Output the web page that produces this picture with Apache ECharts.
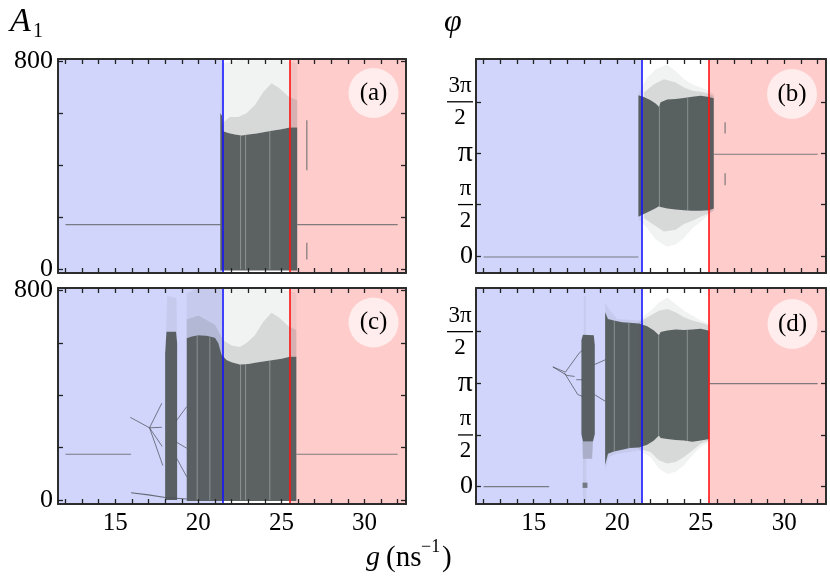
<!DOCTYPE html>
<html>
<head>
<meta charset="utf-8">
<title>Bifurcation diagrams A1 and phi versus g</title>
<script src="https://cdn.jsdelivr.net/npm/echarts@6.0.0/dist/echarts.min.js"></script>
<style>
html,body{margin:0;padding:0;background:#fff;}
#chart{width:830px;height:580px;}
</style>
</head>
<body>
<div id="chart"></div>
<script>
// ---------------- axes, ticks, tick labels ----------------
const gMin = 11.55, gMax = 32.5;
const gTicks = [12,13,14,15,16,17,18,19,20,21,22,23,24,25,26,27,28,29,30,31,32];
const gTickLabels = [15, 20, 25, 30];
const aTicks = [0, 200, 400, 600, 800];
const aTickLabels = [0, 800];
const phiTicks = [0, Math.PI / 2, Math.PI, 3 * Math.PI / 2];
const phiTickLabels = ['0', 'π/2', 'π', '3π/2'];
const aRangeTop = [-14, 808];
const aRangeBottom = [-15, 810];
const phiRangeTop = [-0.52, 6.02];
const phiRangeBottom = [-0.53, 6.04];
const blueLineG = 21.45;
const redLineG = 25.5;
const panelLetters = ['(a)', '(b)', '(c)', '(d)'];

// ---------------- panel (a): A1, upper ----------------
const aFixLeft = [[12, 172], [21.35, 172]];
const aFixRight = [[25.95, 172], [32, 172]];
const aDash1 = [[26.53, 381], [26.53, 573]];
const aDash2 = [[26.53, 38], [26.53, 102]];
const aDenseTop = [[21.32, 600], [21.42, 590], [21.5, 530], [21.8, 524], [22.2, 518], [22.6, 514], [23.0, 518], [23.5, 522], [24.0, 528], [24.5, 533], [25.0, 538], [25.5, 545], [25.95, 545]];
const aDenseBottom = [[21.32, -4], [25.95, -4]];
const aMidTop = [[21.4, 560], [21.9, 585], [22.4, 585], [22.9, 600], [23.4, 630], [23.9, 680], [24.4, 715], [24.9, 695], [25.4, 665], [25.95, 650]];
const aSparseTop = [[21.4, 790], [22.5, 806], [25.0, 806], [25.95, 790]];
const aStripes = [[22.54, 0, 514], [22.84, 0, 516], [24.3, 0, 530]];

// ---------------- panel (b): phi, upper ----------------
const bFixLeft = [[12, -0.03], [21.27, -0.03]];
const bFixRight = [[25.8, 3.11], [32, 3.11]];
const bDash1 = [[26.46, 3.74], [26.46, 4.09]];
const bDash2 = [[26.46, 2.16], [26.46, 2.53]];
const bDenseTop = [[21.27, 4.91], [21.6, 4.86], [22.0, 4.76], [22.3, 4.66], [22.5, 4.56], [22.6, 4.7], [23.0, 4.78], [23.5, 4.8], [24.0, 4.83], [24.5, 4.87], [25.0, 4.9], [25.5, 4.86], [25.78, 4.82]];
const bDenseBottom = [[21.27, 1.2], [21.6, 1.28], [22.0, 1.38], [22.3, 1.46], [22.5, 1.52], [22.6, 1.5], [23.0, 1.45], [23.5, 1.42], [24.0, 1.4], [24.5, 1.38], [25.0, 1.38], [25.5, 1.4], [25.78, 1.45]];
const bMidTop = [[21.6, 5.0], [22.2, 5.25], [22.8, 5.4], [23.5, 5.3], [24.0, 5.15], [24.5, 5.05], [25.0, 5.02], [25.5, 4.96], [25.78, 4.9]];
const bMidBottom = [[21.6, 1.15], [22.2, 0.95], [22.8, 0.75], [23.5, 0.8], [24.0, 0.98], [24.5, 1.08], [25.0, 1.2], [25.5, 1.3], [25.78, 1.4]];
const bSparseTop = [[21.3, 5.0], [21.8, 5.45], [22.3, 5.7], [22.97, 5.85], [23.5, 5.65], [24.0, 5.4], [24.5, 5.25], [25.0, 5.15], [25.5, 5.05], [25.8, 4.95]];
const bSparseBottom = [[21.3, 1.1], [21.8, 0.85], [22.3, 0.5], [22.97, 0.28], [23.5, 0.35], [24.0, 0.55], [24.5, 0.85], [25.0, 1.05], [25.5, 1.25], [25.8, 1.4]];
const bStripes = [[22.53, 1.52, 4.62], [24.22, 1.4, 4.83]];

// ---------------- panel (c): A1, lower ----------------
const cFixLeft = [[12, 175], [15.95, 175]];
const cFixRight = [[25.9, 175], [32, 175]];
const cBranch1 = [[15.9, 316], [17.06, 276]];
const cBranch2 = [[17.06, 276], [17.8, 370]];
const cBranch3 = [[17.06, 276], [17.8, 278]];
const cBranch4 = [[17.06, 276], [17.82, 205]];
const cBranch5 = [[17.06, 276], [17.86, 132]];
const cBranch6 = [[18.63, 299], [19.3, 357]];
const cBranch7 = [[18.63, 223], [19.3, 198]];
const cBranch8 = [[18.7, 159], [19.3, 89]];
const cLowBranch = [[15.95, 28], [17.0, 20], [18.0, 10], [19.3, 4]];
const cColTop = [[18.0, 560], [18.08, 643], [18.66, 643], [18.72, 600]];
const cColBottom = [[18.0, 0], [18.72, 0]];
const cColSparseTop = [[18.05, 643], [18.12, 780], [18.68, 772], [18.72, 643]];
const cColSparseBottom = [[18.05, 643], [18.72, 643]];
const cDenseTop = [[19.3, 618], [19.6, 625], [20.0, 630], [20.5, 628], [21.0, 620], [21.2, 600], [21.4, 555], [21.7, 535], [22.0, 526], [22.5, 518], [23.0, 520], [23.5, 525], [24.0, 530], [24.5, 535], [25.0, 540], [25.5, 547], [25.9, 547]];
const cDenseBottom = [[19.3, -4], [25.9, -4]];
const cMidTop = [[19.3, 690], [20.0, 705], [21.0, 670], [21.5, 610], [22.0, 590], [22.5, 585], [22.9, 600], [23.4, 630], [23.9, 680], [24.4, 715], [24.9, 695], [25.4, 665], [25.9, 650]];
const cSparseTop = [[19.3, 790], [19.8, 806], [25.0, 806], [25.9, 790]];
const cStripes = [[19.93, 0, 628], [20.69, 0, 622], [22.54, 0, 518], [22.84, 0, 519], [24.3, 0, 532]];

// ---------------- panel (d): phi, lower ----------------
const dFixLeft = [[12, 0.0], [15.93, 0.0]];
const dFixRight = [[25.52, 3.13], [32, 3.13]];
const dBranch1 = [[16.15, 3.64], [16.9, 3.48], [17.74, 4.07], [17.94, 4.15]];
const dBranch2 = [[16.15, 3.64], [17.0, 3.38], [17.45, 3.35]];
const dBranch3 = [[16.85, 3.45], [17.64, 2.8], [17.94, 2.74]];
const dBranch4 = [[17.55, 3.25], [17.94, 3.25]];
const dBranch5 = [[18.64, 3.71], [19.3, 3.86]];
const dBranch6 = [[18.64, 2.8], [19.3, 2.59]];
const dColTop = [[17.86, 4.45], [17.95, 4.62], [18.6, 4.6], [18.66, 4.3]];
const dColBottom = [[17.86, 1.6], [17.95, 1.37], [18.55, 1.37], [18.66, 1.6]];
const dColStreakTop = [[18.0, 5.8], [18.12, 5.8]];
const dColStreakBottom = [[18.0, 4.6], [18.12, 4.6]];
const dColFaintTop = [[17.92, 1.37], [18.55, 1.37]];
const dColFaintBottom = [[17.95, 0.85], [18.5, 0.85]];
const dZeroStreakTop = [[17.95, 0.85], [18.15, 0.85]];
const dZeroStreakBottom = [[17.95, -0.4], [18.15, -0.4]];
const dZeroTop = [[17.93, 0.12], [18.22, 0.12]];
const dZeroBottom = [[17.93, -0.04], [18.22, -0.04]];
const dDenseTop = [[19.28, 5.3], [19.45, 5.1], [19.8, 5.05], [20.3, 5.0], [20.75, 4.98], [21.3, 4.96], [21.8, 4.88], [22.2, 4.75], [22.5, 4.6], [22.6, 4.7], [23.0, 4.75], [23.5, 4.78], [24.0, 4.76], [24.5, 4.78], [25.0, 4.8], [25.52, 4.74]];
const dDenseBottom = [[19.28, 0.66], [19.45, 1.0], [19.8, 1.07], [20.3, 1.12], [20.75, 1.17], [21.3, 1.19], [21.8, 1.27], [22.2, 1.4], [22.5, 1.55], [22.6, 1.48], [23.0, 1.45], [23.5, 1.42], [24.0, 1.4], [24.5, 1.36], [25.0, 1.4], [25.52, 1.45]];
const dMidTop = [[21.3, 5.0], [22.0, 5.2], [22.5, 5.35], [23.0, 5.4], [23.5, 5.3], [24.0, 5.15], [24.5, 5.05], [25.0, 4.98], [25.52, 4.9]];
const dMidBottom = [[21.3, 1.15], [22.0, 1.05], [22.5, 0.8], [23.0, 0.7], [23.5, 0.75], [24.0, 0.9], [24.5, 1.1], [25.0, 1.3], [25.52, 1.4]];
const dSparseTop = [[19.28, 5.6], [19.5, 5.4], [20.0, 5.1], [21.3, 5.05], [22.0, 5.35], [22.5, 5.6], [23.0, 5.75], [23.5, 5.55], [24.0, 5.35], [24.5, 5.2], [25.0, 5.05], [25.52, 4.95]];
const dSparseBottom = [[19.28, 0.5], [19.5, 0.9], [20.0, 1.0], [21.3, 1.1], [22.0, 0.9], [22.5, 0.55], [23.0, 0.38], [23.5, 0.45], [24.0, 0.65], [24.5, 0.95], [25.0, 1.2], [25.52, 1.35]];
const dStripes = [[19.83, 1.07, 5.05], [20.7, 1.17, 4.98], [22.48, 1.55, 4.6], [24.2, 1.38, 4.77]];

// ---------------- styling ----------------
const SERIF = "'Liberation Serif','DejaVu Serif',serif";
const DENSE = 'rgba(80,86,86,0.93)';
const MID = 'rgba(80,86,86,0.16)';
const SPARSE = 'rgba(80,86,86,0.08)';
const FAINT = 'rgba(80,86,86,0.3)';
const FIX = 'rgba(95,100,102,0.8)';
const BRANCH = 'rgba(75,80,88,0.8)';
const STRIPE = 'rgba(190,196,196,0.45)';
const BLUE_SHADE = 'rgba(25,45,235,0.2)';
const RED_SHADE = 'rgba(255,0,0,0.2)';

const grids = [
  {left: 58, top: 59, width: 348, height: 214},
  {left: 476, top: 59, width: 350, height: 214},
  {left: 58, top: 288, width: 348, height: 216},
  {left: 476, top: 288, width: 350, height: 216}
];

const frameLine = {show: true, onZero: false, lineStyle: {color: '#2d2d2d', width: 2}};
const tickStyle = {color: '#222', width: 1.3};

function xAxesFor(gi, showLabels) {
  const base = {type: 'value', gridIndex: gi, min: gMin, max: gMax, z: 20,
    splitLine: {show: false}, axisLine: frameLine,
    axisTick: {show: true, inside: true, length: 5, customValues: gTicks, lineStyle: tickStyle}};
  return [
    Object.assign({}, base, {position: 'bottom',
      axisLabel: {show: showLabels, customValues: gTickLabels, margin: 7, color: '#000', fontFamily: SERIF, fontSize: 25}}),
    Object.assign({}, base, {position: 'top', axisLabel: {show: false}})
  ];
}

function phiRich(label) {
  if (label.indexOf('/') >= 0) {
    const parts = label.split('/');
    const bar = parts[0].length > 1 ? 'barW' : 'barN';
    return '{num|' + parts[0] + '}\n{' + bar + '| }\n{num|' + parts[1] + '}';
  }
  if (label === 'π') return '{pi|π}';
  return '{zero|' + label + '}';
}

const phiRichStyles = {
  num: {fontFamily: SERIF, fontSize: 23, lineHeight: 26, align: 'center', color: '#000'},
  barW: {width: 26, height: 1.3, lineHeight: 6, backgroundColor: '#000', fontSize: 1, align: 'center'},
  barN: {width: 15, height: 1.3, lineHeight: 6, backgroundColor: '#000', fontSize: 1, align: 'center'},
  pi: {fontFamily: SERIF, fontSize: 30, color: '#000'},
  zero: {fontFamily: SERIF, fontSize: 26, color: '#000'}
};

function yAxesFor(gi, isPhi, range) {
  const base = {type: 'value', gridIndex: gi, min: range[0], max: range[1], z: 20,
    splitLine: {show: false}, axisLine: frameLine,
    axisTick: {show: true, inside: true, length: 5, customValues: isPhi ? phiTicks : aTicks, lineStyle: tickStyle}};
  const label = isPhi ? {
      show: true, customValues: phiTicks, margin: 3,
      formatter: function (v) {
        let idx = 0;
        phiTicks.forEach(function (t, i) { if (Math.abs(t - v) < 1e-6) idx = i; });
        return phiRich(phiTickLabels[idx]);
      },
      rich: phiRichStyles
    } : {show: true, customValues: aTickLabels, margin: 5, color: '#000', fontFamily: SERIF, fontSize: 26};
  return [
    Object.assign({}, base, {position: 'left', axisLabel: label}),
    Object.assign({}, base, {position: 'right', axisLabel: {show: false}})
  ];
}

function poly(gi, top, bottom, color, z) {
  return {
    type: 'custom', xAxisIndex: gi * 2, yAxisIndex: gi * 2, silent: true, z: z || 2,
    data: [top[0]],
    renderItem: function (params, api) {
      const pts = top.map(function (p) { return api.coord(p); })
        .concat(bottom.slice().reverse().map(function (p) { return api.coord(p); }));
      return {type: 'polygon', shape: {points: pts}, style: {fill: color}};
    }
  };
}

function line(gi, pts, color, width, z) {
  return {type: 'line', xAxisIndex: gi * 2, yAxisIndex: gi * 2, data: pts, symbol: 'none',
    silent: true, z: z || 3, lineStyle: {color: color, width: width}};
}

function stripes(gi, list) {
  return list.map(function (s) { return line(gi, [[s[0], s[1]], [s[0], s[2]]], STRIPE, 1.1, 4); });
}

function regions(gi) {
  return {
    type: 'line', xAxisIndex: gi * 2, yAxisIndex: gi * 2, data: [], z: 10, silent: true,
    markArea: {silent: true, data: [
      [{xAxis: gMin, itemStyle: {color: BLUE_SHADE}}, {xAxis: blueLineG}],
      [{xAxis: redLineG, itemStyle: {color: RED_SHADE}}, {xAxis: gMax}]
    ]},
    markLine: {silent: true, symbol: 'none', label: {show: false},
      data: [
        {xAxis: blueLineG, lineStyle: {color: '#1414ff', width: 1.6, type: 'solid'}},
        {xAxis: redLineG, lineStyle: {color: '#ff1414', width: 1.6, type: 'solid'}}
      ]}
  };
}

const series = [].concat(
  // (a)
  [poly(0, aSparseTop, aDenseTop, SPARSE), poly(0, aMidTop, aDenseTop, MID), poly(0, aDenseTop, aDenseBottom, DENSE)],
  stripes(0, aStripes),
  [line(0, aFixLeft, FIX, 1.1), line(0, aFixRight, FIX, 1.1), line(0, aDash1, FIX, 1.2), line(0, aDash2, FIX, 1.2), regions(0)],
  // (b)
  [poly(1, bSparseTop, bSparseBottom, SPARSE), poly(1, bMidTop, bMidBottom, MID), poly(1, bDenseTop, bDenseBottom, DENSE)],
  stripes(1, bStripes),
  [line(1, bFixLeft, FIX, 1.1), line(1, bFixRight, FIX, 1.1), line(1, bDash1, FIX, 1.2), line(1, bDash2, FIX, 1.2), regions(1)],
  // (c)
  [poly(2, cSparseTop, cDenseTop, SPARSE), poly(2, cMidTop, cDenseTop, MID), poly(2, cColSparseTop, cColSparseBottom, SPARSE),
   poly(2, cDenseTop, cDenseBottom, DENSE), poly(2, cColTop, cColBottom, DENSE)],
  stripes(2, cStripes),
  [line(2, cFixLeft, FIX, 1.1), line(2, cFixRight, FIX, 1.1),
   line(2, cBranch1, BRANCH, 0.9), line(2, cBranch2, BRANCH, 0.9), line(2, cBranch3, BRANCH, 0.9), line(2, cBranch4, BRANCH, 0.9),
   line(2, cBranch5, BRANCH, 0.9), line(2, cBranch6, BRANCH, 0.9), line(2, cBranch7, BRANCH, 0.9), line(2, cBranch8, BRANCH, 0.9),
   line(2, cLowBranch, BRANCH, 1.1), regions(2)],
  // (d)
  [poly(3, dSparseTop, dSparseBottom, SPARSE), poly(3, dMidTop, dMidBottom, MID),
   poly(3, dColStreakTop, dColStreakBottom, SPARSE), poly(3, dColFaintTop, dColFaintBottom, FAINT),
   poly(3, dZeroStreakTop, dZeroStreakBottom, SPARSE),
   poly(3, dDenseTop, dDenseBottom, DENSE), poly(3, dColTop, dColBottom, DENSE), poly(3, dZeroTop, dZeroBottom, 'rgba(80,86,86,0.7)')],
  stripes(3, dStripes),
  [line(3, dFixLeft, FIX, 1.1), line(3, dFixRight, FIX, 1.1),
   line(3, dBranch1, BRANCH, 0.9), line(3, dBranch2, BRANCH, 0.9), line(3, dBranch3, BRANCH, 0.9), line(3, dBranch4, BRANCH, 0.9),
   line(3, dBranch5, BRANCH, 0.9), line(3, dBranch6, BRANCH, 0.9), regions(3)]
);

const badgeCenters = [[373.5, 93], [792, 94], [373.5, 322.5], [792.5, 324]];
const graphics = [];
badgeCenters.forEach(function (c, i) {
  graphics.push({type: 'circle', z: 30, silent: true, shape: {cx: c[0], cy: c[1], r: 25}, style: {fill: 'rgba(255,255,255,0.62)'}});
  graphics.push({type: 'text', z: 31, silent: true, x: c[0], y: c[1],
    style: {text: panelLetters[i], fill: '#000', fontFamily: SERIF, fontSize: 25, align: 'center', verticalAlign: 'middle'}});
});
graphics.push(
  {type: 'text', silent: true, x: 10, y: 22, style: {text: 'A', fill: '#000', fontFamily: SERIF, fontStyle: 'italic', fontSize: 34, align: 'left', verticalAlign: 'middle'}},
  {type: 'text', silent: true, x: 33, y: 32, style: {text: '1', fill: '#000', fontFamily: SERIF, fontSize: 20, align: 'left', verticalAlign: 'middle'}},
  {type: 'text', silent: true, x: 444, y: 23, style: {text: 'φ', fill: '#000', fontFamily: SERIF, fontStyle: 'italic', fontSize: 32, align: 'left', verticalAlign: 'middle'}},
  {type: 'text', silent: true, x: 366, y: 558, style: {text: 'g', fill: '#000', fontFamily: SERIF, fontStyle: 'italic', fontSize: 28, align: 'left', verticalAlign: 'middle'}},
  {type: 'text', silent: true, x: 386, y: 558, style: {text: '(ns', fill: '#000', fontFamily: SERIF, fontSize: 29, align: 'left', verticalAlign: 'middle'}},
  {type: 'text', silent: true, x: 421, y: 547, style: {text: '−1', fill: '#000', fontFamily: SERIF, fontSize: 18, align: 'left', verticalAlign: 'middle'}},
  {type: 'text', silent: true, x: 442, y: 558, style: {text: ')', fill: '#000', fontFamily: SERIF, fontSize: 29, align: 'left', verticalAlign: 'middle'}}
);

const chart = echarts.init(document.getElementById('chart'), null, {renderer: 'canvas'});
chart.setOption({
  animation: false,
  backgroundColor: '#fff',
  grid: grids,
  xAxis: [].concat(xAxesFor(0, false), xAxesFor(1, false), xAxesFor(2, true), xAxesFor(3, true)),
  yAxis: [].concat(yAxesFor(0, false, aRangeTop), yAxesFor(1, true, phiRangeTop), yAxesFor(2, false, aRangeBottom), yAxesFor(3, true, phiRangeBottom)),
  series: series,
  graphic: {elements: graphics}
});
</script>
</body>
</html>
